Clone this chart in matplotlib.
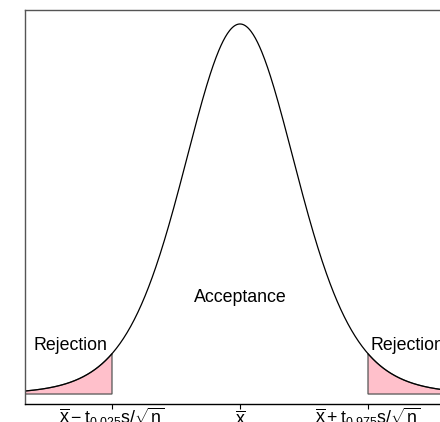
import math
import numpy as np
import matplotlib
matplotlib.use("Agg")
import matplotlib.pyplot as plt
from matplotlib.transforms import ScaledTranslation

# ---- data ----
df = 10                      # degrees of freedom of the t curve
t_lower = -2.228             # t_{0.025}
t_upper = 2.228              # t_{0.975}
x_min, x_max = -3.737, 3.737
tick_positions = [t_lower, 0.0, t_upper]
tick_labels = [
    r'$\overline{\mathrm{x}}-\mathrm{t}_{0.025}\mathrm{s}/\sqrt{\mathrm{n}}$',
    r'$\overline{\mathrm{x}}$',
    r'$\overline{\mathrm{x}}+\mathrm{t}_{0.975}\mathrm{s}/\sqrt{\mathrm{n}}$',
]
region_labels = ["Rejection", "Acceptance", "Rejection"]
region_x = [-2.96, 0.0, 2.92]
region_y = [0.0515, 0.102, 0.0515]

plt.rcParams['font.family'] = ['Liberation Sans', 'DejaVu Sans']
plt.rcParams['mathtext.fontset'] = 'custom'
plt.rcParams['mathtext.rm'] = 'Liberation Sans'
plt.rcParams['mathtext.it'] = 'Liberation Sans:italic'


def t_density(x, nu):
    c = math.exp(math.lgamma((nu + 1) / 2) - math.lgamma(nu / 2)) / math.sqrt(nu * math.pi)
    return c * (1 + x ** 2 / nu) ** (-(nu + 1) / 2)


x = np.linspace(x_min, x_max, 600)
y = t_density(x, df)

fig = plt.figure(figsize=(4.4, 4.22), dpi=100)
ax = fig.add_axes([25.3 / 440, 18 / 422, (454.7 - 25.3) / 440, (404 - 10) / 422])

pink = "#FFC0CB"
xl = np.linspace(x_min, t_lower, 200)
xr = np.linspace(t_upper, x_max, 200)
for xs in (xl, xr):
    px = np.concatenate([[xs[0]], xs, [xs[-1]]])
    py = np.concatenate([[0], t_density(xs, df), [0]])
    ax.fill(px, py, facecolor=pink, edgecolor="#555555", linewidth=0.9, zorder=1)

ax.plot(x, y, color="black", linewidth=0.9, zorder=2)

for lab, lx, ly in zip(region_labels, region_x, region_y):
    ax.text(lx, ly, lab, ha="center", va="center", fontsize=12.8)

ax.set_xlim(x_min, x_max)
ax.set_ylim(-0.0105, 0.4038)
ax.set_xticks(tick_positions)
ax.set_xticklabels([])
ax.tick_params(axis="x", length=3.5, width=0.8, direction="out")
label_drop_px = [1.5, 6.5, 1.5]
for pos, lab, dpx in zip(tick_positions, tick_labels, label_drop_px):
    tr = ax.get_xaxis_transform() + ScaledTranslation(0, -dpx / 100, fig.dpi_scale_trans)
    ax.text(pos, 0, lab, transform=tr, ha="center", va="top", fontsize=12.8, clip_on=False)
ax.set_yticks([])
for s in ax.spines.values():
    s.set_color("#555555")
    s.set_linewidth(1.0)
ax.spines["bottom"].set_color("black")

fig.savefig("out.png", dpi=100)
